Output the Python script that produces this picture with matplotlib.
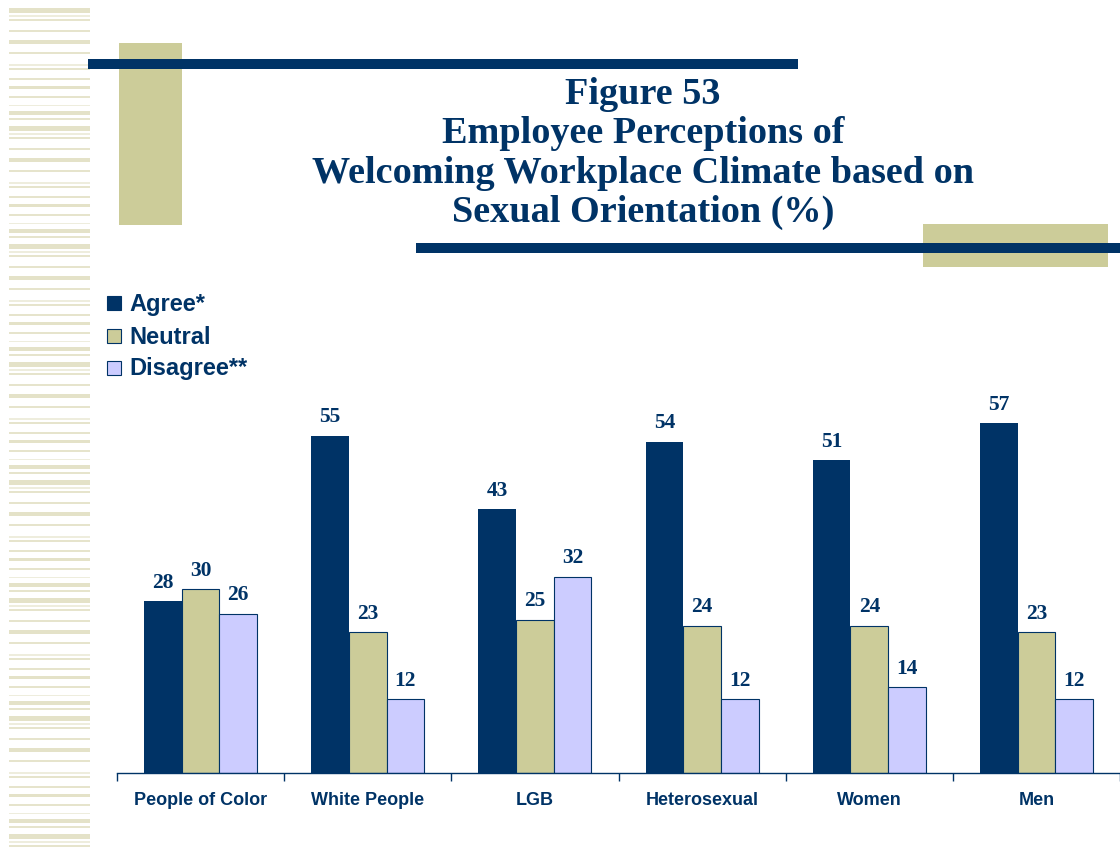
import matplotlib
matplotlib.use("Agg")
import matplotlib.pyplot as plt
from matplotlib.patches import Rectangle
import numpy as np

categories = ["People of Color", "White People", "LGB", "Heterosexual", "Women", "Men"]
agree = [28, 55, 43, 54, 51, 57]
neutral = [30, 23, 25, 24, 24, 23]
disagree = [26, 12, 32, 12, 14, 12]
series_names = ["Agree*", "Neutral", "Disagree**"]
title_lines = ["Figure 53", "Employee Perceptions of",
               "Welcoming Workplace Climate based on", "Sexual Orientation (%)"]

NAVY = "#003366"
KHAKI = "#CCCC99"
LAV = "#CCCCFF"
colors = [NAVY, KHAKI, LAV]

W, H = 1120, 851
fig = plt.figure(figsize=(W / 100, H / 100), dpi=100)
fig.patch.set_facecolor("white")

# background decoration layer in pixel coords
bg = fig.add_axes([0, 0, 1, 1])
bg.set_xlim(0, W)
bg.set_ylim(H, 0)
bg.axis("off")

# left striped band
pattern = [(0, 5, "#E4E2C8"), (7, 2, "#EEEDDD"), (11, 2, "#E6E4CC"), (22, 2, "#E6E4CC"),
           (32, 4, "#E4E2C8"), (44, 2, "#E6E4CC"), (56, 2, "#EEEDDD"), (60, 2, "#E6E4CC"),
           (70, 2, "#E6E4CC"), (78, 3, "#E4E2C8"), (88, 2, "#E6E4CC"), (97, 1, "#EEEDDD"),
           (103, 4, "#E4E2C8"), (110, 2, "#E6E4CC")]
period = 118
y0 = 8
while y0 < H:
    for off, h, c in pattern:
        yy = y0 + off
        if yy < H:
            bg.add_patch(Rectangle((9, yy), 81, h, color=c, lw=0))
    y0 += period

bg.add_patch(Rectangle((119, 43), 63, 182, color=KHAKI, lw=0))
bg.add_patch(Rectangle((88, 59), 710, 10, color=NAVY, lw=0))
bg.add_patch(Rectangle((923, 224), 185, 43, color=KHAKI, lw=0))
bg.add_patch(Rectangle((416, 243), 704, 10, color=NAVY, lw=0))

title_base = [104, 143, 183, 222]
for t, yy in zip(title_lines, title_base):
    bg.text(643, yy, t, ha="center", va="baseline", fontsize=27.5,
            fontweight="bold", family="Liberation Serif", color=NAVY)

# legend
leg_y = [303, 336, 368]
for name, c, yy in zip(series_names, colors, leg_y):
    bg.add_patch(Rectangle((107, yy - 7), 14, 14, facecolor=c,
                           edgecolor=NAVY if c != NAVY else c, lw=0.8))
    bg.text(129, yy + 1, name, ha="left", va="center", fontsize=17,
            fontweight="bold", family="Liberation Sans", color=NAVY)

# chart axes
ax = fig.add_axes([117 / W, (H - 773) / H, 1 - 117 / W, (773 - 405) / H])
ax.set_facecolor("none")
x = np.arange(len(categories))
bw = 0.225
for i, (vals, c) in enumerate(zip([agree, neutral, disagree], colors)):
    pos = x + (i - 1) * bw
    ax.bar(pos, vals, width=bw, color=c,
           edgecolor=NAVY, linewidth=0.8 if i else 0, zorder=2)
    for p, v in zip(pos, vals):
        ax.annotate(str(v), (p, v), xytext=(0, 6), textcoords="offset points",
                    ha="center", va="bottom", fontsize=15.5, fontweight="bold",
                    family="Liberation Serif", color=NAVY)

ax.set_xlim(-0.5, len(categories) - 0.5)
ax.set_ylim(0, 60)
for s in ["top", "right", "left"]:
    ax.spines[s].set_visible(False)
ax.spines["bottom"].set_color(NAVY)
ax.spines["bottom"].set_linewidth(1)
ax.set_yticks([])
ax.set_xticks(np.arange(-0.5, len(categories), 1.0), minor=False)
ax.set_xticklabels([])
ax.tick_params(axis="x", which="major", length=6, color=NAVY, width=1, direction="out")
ax.set_xticks(x, minor=True)
ax.set_xticklabels(categories, minor=True, fontsize=13, fontweight="bold",
                   family="Liberation Sans", color=NAVY)
ax.tick_params(axis="x", which="minor", length=0, pad=14)

fig.savefig("out.png", dpi=100, facecolor="white")
